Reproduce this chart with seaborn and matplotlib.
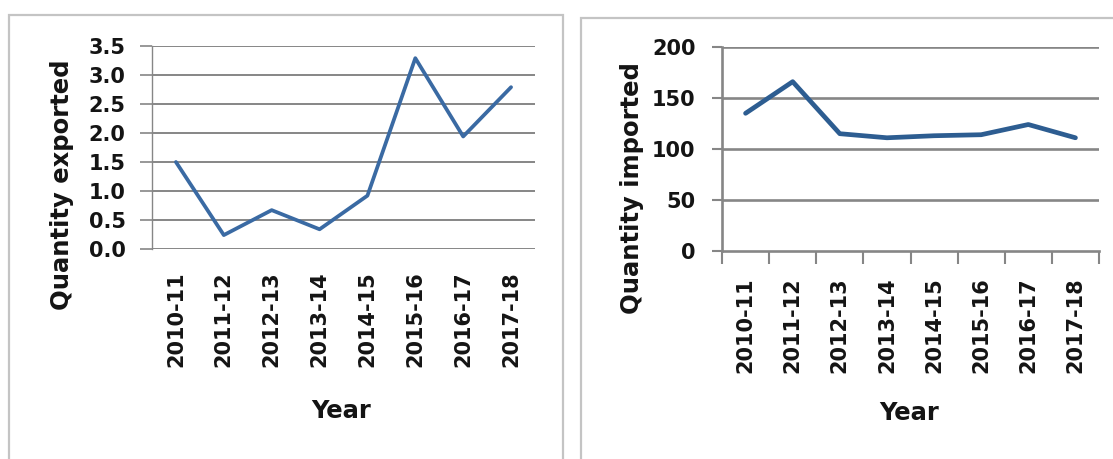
import matplotlib
matplotlib.use("Agg")
import matplotlib.pyplot as plt
from matplotlib.patches import Rectangle
import numpy as np
import pandas as pd
import seaborn as sns

# Fiscal years shared by both panels
years = ["2010-11", "2011-12", "2012-13", "2013-14",
         "2014-15", "2015-16", "2016-17", "2017-18"]

# Quantities exported and imported per fiscal year
exported = [1.5, 0.24, 0.67, 0.34, 0.92, 3.29, 1.94, 2.79]
imported = [135, 166, 115, 111, 113, 114, 124, 111]

export_ticks = [0.0, 0.5, 1.0, 1.5, 2.0, 2.5, 3.0, 3.5]
import_ticks = [0, 50, 100, 150, 200]

sns.set_theme(style="white")
plt.rcParams["font.family"] = ["DejaVu Sans"]
plt.rcParams["font.weight"] = "bold"
plt.rcParams["text.color"] = "#141414"
plt.rcParams["axes.labelcolor"] = "#141414"
plt.rcParams["xtick.color"] = "#141414"
plt.rcParams["ytick.color"] = "#141414"

df_exp = pd.DataFrame({"Year": years, "Quantity": exported})
df_imp = pd.DataFrame({"Year": years, "Quantity": imported})

W, H = 1113, 459
fig = plt.figure(figsize=(W / 100, H / 100), dpi=100)
fig.patch.set_facecolor("white")


def frac_rect(x0, y0, x1, y1):
    """Pixel box (top-left origin) -> figure-fraction rect."""
    return [x0 / W, 1 - y1 / H, (x1 - x0) / W, (y1 - y0) / H]


# Chart-area frames
for (x0, y0, x1, y1) in [(9, 15, 563, 470), (581, 18, 1125, 470)]:
    fig.add_artist(Rectangle((x0 / W, 1 - y1 / H), (x1 - x0) / W, (y1 - y0) / H,
                             transform=fig.transFigure, fill=False,
                             edgecolor="#c4c4c4", linewidth=1.6, zorder=0))

grid_col = "#868686"
tick_fs = 15
label_fs = 17.5

# ---------- Exports panel ----------
ax1 = fig.add_axes(frac_rect(152, 46, 535, 249))
sns.lineplot(data=df_exp, x="Year", y="Quantity", ax=ax1, color="#3a6aa3",
             linewidth=2.7, sort=False)
ax1.set_xlim(-0.5, len(years) - 0.5)
ax1.set_ylim(0, 3.5)
ax1.set_yticks(export_ticks)
ax1.set_yticklabels([f"{v:.1f}" for v in export_ticks], fontsize=tick_fs, fontweight="bold")
ax1.set_xticks(range(len(years)))
ax1.set_xticklabels(years, rotation=90, fontsize=tick_fs, fontweight="bold")
ax1.tick_params(axis="x", length=0, pad=16)
ax1.tick_params(axis="y", length=9, width=1.2, color=grid_col, pad=10, left=True)
for v in export_ticks:
    ax1.axhline(v, color=grid_col, linewidth=1.4, zorder=0)
for s in ["top", "right", "bottom"]:
    ax1.spines[s].set_visible(False)
ax1.spines["left"].set_color(grid_col)
ax1.spines["left"].set_linewidth(1.0)
ax1.set_xlabel("Year", fontsize=label_fs, fontweight="bold", va="center")
ax1.xaxis.set_label_coords(0.495, -0.798)
ax1.set_ylabel("Quantity exported", fontsize=label_fs, fontweight="bold", va="center")
ax1.yaxis.set_label_coords(-0.235, 0.318)

# ---------- Imports panel ----------
ax2 = fig.add_axes(frac_rect(722, 47, 1099, 251))
sns.lineplot(data=df_imp, x="Year", y="Quantity", ax=ax2, color="#2d5d91",
             linewidth=3.4, sort=False)
ax2.set_xlim(-0.5, len(years) - 0.5)
ax2.set_ylim(0, 200)
ax2.set_yticks(import_ticks)
ax2.set_yticklabels([str(v) for v in import_ticks], fontsize=tick_fs, fontweight="bold")
ax2.set_xticks(range(len(years)))
ax2.set_xticklabels(years, rotation=90, fontsize=tick_fs, fontweight="bold")
ax2.set_xticks(np.arange(-0.5, len(years)), minor=True)
ax2.tick_params(axis="x", which="major", length=0, pad=19)
ax2.tick_params(axis="x", which="minor", length=9, width=1.5, color=grid_col, bottom=True)
ax2.tick_params(axis="y", length=7, width=1.5, color=grid_col, pad=12, left=True)
for v in import_ticks[1:]:
    ax2.axhline(v, color=grid_col, linewidth=1.9, zorder=0)
for s in ["top", "right"]:
    ax2.spines[s].set_visible(False)
for s in ["left", "bottom"]:
    ax2.spines[s].set_color(grid_col)
    ax2.spines[s].set_linewidth(1.9)
ax2.set_xlabel("Year", fontsize=label_fs, fontweight="bold", va="center")
ax2.xaxis.set_label_coords(0.497, -0.794)
ax2.set_ylabel("Quantity imported", fontsize=label_fs, fontweight="bold", va="center")
ax2.yaxis.set_label_coords(-0.239, 0.309)

fig.savefig("out.png", dpi=100, facecolor="white")
